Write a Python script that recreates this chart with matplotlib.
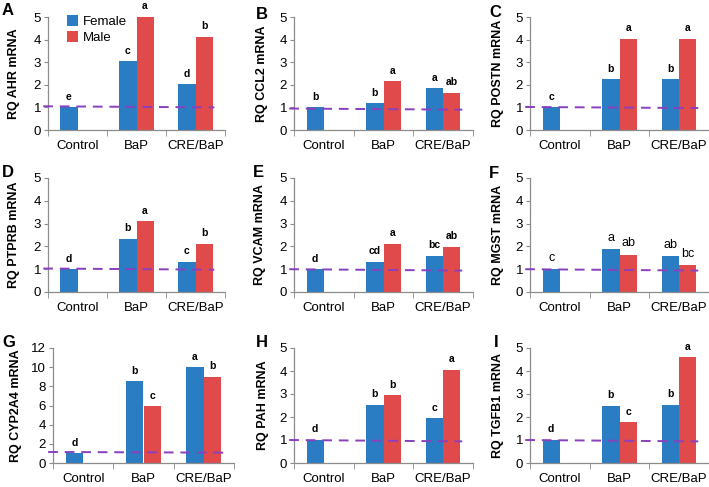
import matplotlib
matplotlib.use('Agg')
import matplotlib.pyplot as plt
import numpy as np

plt.rcParams['font.family'] = ['Liberation Sans', 'DejaVu Sans']

groups = ['Control', 'BaP', 'CRE/BaP']
nan = np.nan

# values (female / male), letters above bars
ahr_f = [1.0, 3.04, 2.03]
ahr_m = [nan, 5.0, 4.12]
ahr_lf = ['e', 'c', 'd']
ahr_lm = ['', 'a', 'b']

ccl2_f = [1.0, 1.18, 1.85]
ccl2_m = [nan, 2.15, 1.64]
ccl2_lf = ['b', 'b', 'a']
ccl2_lm = ['', 'a', 'ab']

postn_f = [1.0, 2.25, 2.24]
postn_m = [nan, 4.03, 4.04]
postn_lf = ['c', 'b', 'b']
postn_lm = ['', 'a', 'a']

ptprb_f = [1.0, 2.34, 1.33]
ptprb_m = [nan, 3.11, 2.12]
ptprb_lf = ['d', 'b', 'c']
ptprb_lm = ['', 'a', 'b']

vcam_f = [1.0, 1.33, 1.58]
vcam_m = [nan, 2.12, 1.99]
vcam_lf = ['d', 'cd', 'bc']
vcam_lm = ['', 'a', 'ab']

mgst_f = [1.0, 1.87, 1.56]
mgst_m = [nan, 1.63, 1.17]
mgst_lf = ['c', 'a', 'ab']
mgst_lm = ['', 'ab', 'bc']

cyp_f = [1.0, 8.52, 9.98]
cyp_m = [nan, 5.9, 8.97]
cyp_lf = ['d', 'b', 'a']
cyp_lm = ['', 'c', 'b']

pah_f = [1.0, 2.53, 1.94]
pah_m = [nan, 2.94, 4.06]
pah_lf = ['d', 'b', 'c']
pah_lm = ['', 'b', 'a']

tgfb1_f = [1.0, 2.5, 2.52]
tgfb1_m = [nan, 1.77, 4.6]
tgfb1_lf = ['d', 'b', 'b']
tgfb1_lm = ['', 'c', 'a']

# dashed reference line (left, right) heights
ref_lines = [(1.05, 1.0), (0.95, 0.9), (1.02, 0.97),
             (1.03, 0.98), (1.0, 0.94), (1.0, 0.94),
             (1.15, 1.08), (1.0, 0.94), (1.0, 0.94)]

panels = [
    ('A', 'RQ AHR mRNA', ahr_f, ahr_m, ahr_lf, ahr_lm, 5, 1),
    ('B', 'RQ CCL2 mRNA', ccl2_f, ccl2_m, ccl2_lf, ccl2_lm, 5, 1),
    ('C', 'RQ POSTN mRNA', postn_f, postn_m, postn_lf, postn_lm, 5, 1),
    ('D', 'RQ PTPRB mRNA', ptprb_f, ptprb_m, ptprb_lf, ptprb_lm, 5, 1),
    ('E', 'RQ VCAM mRNA', vcam_f, vcam_m, vcam_lf, vcam_lm, 5, 1),
    ('F', 'RQ MGST mRNA', mgst_f, mgst_m, mgst_lf, mgst_lm, 5, 1),
    ('G', 'RQ CYP2A4 mRNA', cyp_f, cyp_m, cyp_lf, cyp_lm, 12, 2),
    ('H', 'RQ PAH mRNA', pah_f, pah_m, pah_lf, pah_lm, 5, 1),
    ('I', 'RQ TGFB1 mRNA', tgfb1_f, tgfb1_m, tgfb1_lf, tgfb1_lm, 5, 1),
]

# axes boxes in pixels: left, top, right, bottom
boxes = [
    (48, 17, 225, 130), (294, 17, 473, 130), (530, 17, 709, 130),
    (48, 178, 225, 292), (294, 178, 473, 292), (530, 178, 709, 292),
    (53, 348, 234, 463), (294, 348, 473, 463), (530, 348, 709, 463),
]
label_x = [20, 268, 504, 20, 266, 504, 22, 269, 504]
letter_pos = [(2, 3), (256, 7), (489, 5), (2, 165), (253, 165), (489, 166),
              (2, 335), (256, 335), (494, 335)]

W, H = 709, 487
blue = '#2a7dc2'
red = '#e04a4b'
purple = '#8a3fbf'
gray = '#8c8c8c'

fig = plt.figure(figsize=(W / 100, H / 100), dpi=100)
x = np.arange(len(groups))
bw = 0.29

for i, (letter, ylab, fem, mal, lf, lm, ymax, step) in enumerate(panels):
    l, t, r, b = boxes[i]
    ax = fig.add_axes([l / W, 1 - b / H, (r - l) / W, (b - t) / H])
    ax.bar(x - bw / 2, fem, bw, color=blue, label='Female', zorder=2)
    ax.bar(x + bw / 2, mal, bw, color=red, label='Male', zorder=2)
    ax.set_xlim(-0.5, 2.5)
    ax.set_ylim(0, ymax)
    ax.set_yticks(np.arange(0, ymax + 0.1, step))
    ax.set_xticks(x)
    ax.set_xticklabels(groups)
    ax.set_xticks([-0.5, 0.5, 1.5, 2.5], minor=True)
    ax.tick_params(axis='x', which='major', length=0, pad=7, labelsize=9.5)
    ax.tick_params(axis='x', which='minor', length=4, color=gray, direction='out')
    ax.tick_params(axis='y', length=3, color=gray, pad=2, labelsize=9.5)
    for s in ['top', 'right']:
        ax.spines[s].set_visible(False)
    for s in ['left', 'bottom']:
        ax.spines[s].set_color(gray)
        ax.spines[s].set_linewidth(0.9)
    ax.set_ylabel(ylab, fontsize=9, fontweight='bold')
    ax.yaxis.set_label_coords((label_x[i] - l) / (r - l), 0.5)

    y0, y1 = ref_lines[i]
    ax.plot([-0.58, 2.32], [y0, y1], color=purple, lw=1.4,
            dashes=(5, 3.5), clip_on=False, zorder=3)

    bold = letter != 'F'
    fs = 7.5 if bold else 9
    for j in range(len(groups)):
        if lf[j]:
            ax.annotate(lf[j], (x[j] - bw / 2, fem[j]), xytext=(0, 4),
                        textcoords='offset points', ha='center', va='bottom',
                        fontsize=fs, fontweight='bold' if bold else 'normal',
                        annotation_clip=False)
        if lm[j]:
            ax.annotate(lm[j], (x[j] + bw / 2, mal[j]), xytext=(0, 4),
                        textcoords='offset points', ha='center', va='bottom',
                        fontsize=fs, fontweight='bold' if bold else 'normal',
                        annotation_clip=False)

    lx, ly = letter_pos[i]
    fig.text(lx / W, 1 - ly / H, letter, fontsize=12, fontweight='bold',
             ha='left', va='top')

    if letter == 'A':
        ax.legend(loc='upper left', bbox_to_anchor=(0.08, 1.06), frameon=False,
                  fontsize=9.5, handlelength=0.8, handleheight=0.8,
                  handletextpad=0.4, labelspacing=0.25, borderaxespad=0)

fig.savefig('out.png', dpi=100)
